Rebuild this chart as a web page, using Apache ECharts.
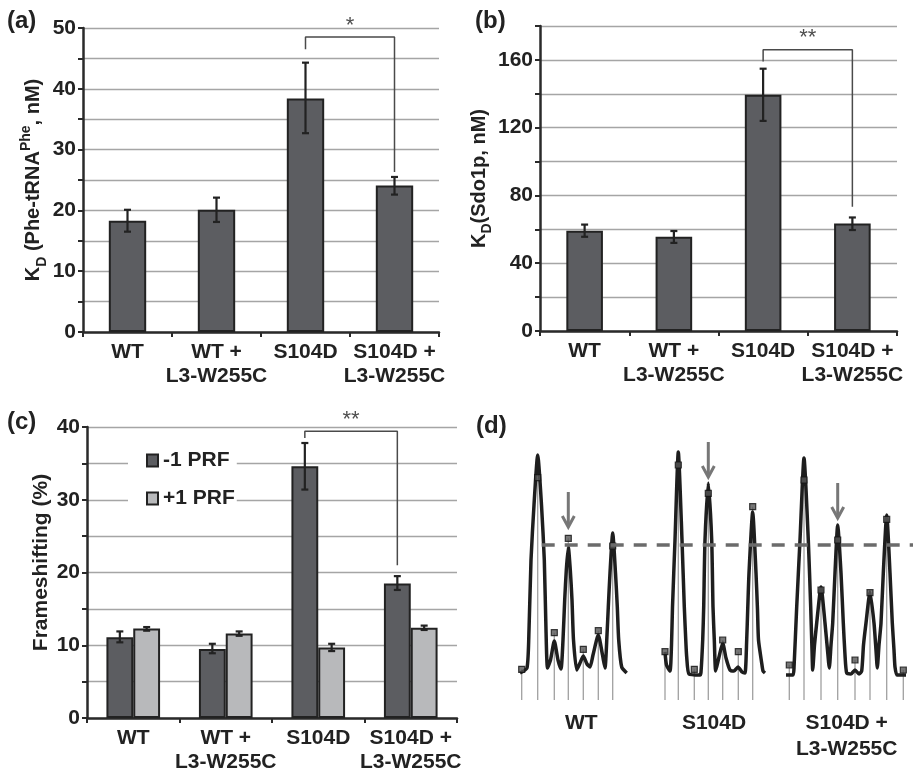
<!DOCTYPE html>
<html>
<head>
<meta charset="utf-8">
<script src="https://cdn.jsdelivr.net/npm/echarts@6.0.0/dist/echarts.min.js"></script>
<style>
html, body { margin: 0; padding: 0; background: #fff; }
#main { width: 913px; height: 769px; }
</style>
</head>
<body>
<div id="main"></div>
<script>
// categories shared by panels a, b, c
var categories = ['WT', 'WT +\nL3-W255C', 'S104D', 'S104D +\nL3-W255C'];

// (a) KD Phe-tRNA (nM)
var kdPhe = [18.3, 20.1, 38.4, 24.1];
var kdPheLow = [16.5, 18.1, 32.7, 22.6];
var kdPheHigh = [20.1, 22.1, 44.3, 25.5];

// (b) KD Sdo1p (nM)
var kdSdo = [59.2, 55.6, 139.5, 63.4];
var kdSdoLow = [55.6, 52.0, 124.0, 59.6];
var kdSdoHigh = [62.8, 59.0, 154.8, 67.0];

// (c) frameshifting (%)
var prfMinus1 = [11.1, 9.5, 34.6, 18.5];
var prfMinus1Low = [10.4, 8.9, 31.4, 17.6];
var prfMinus1High = [11.9, 10.2, 37.8, 19.5];
var prfPlus1 = [12.3, 11.6, 9.7, 12.4];
var prfPlus1Low = [12.0, 11.3, 9.2, 12.1];
var prfPlus1High = [12.5, 11.9, 10.2, 12.7];

// significance brackets [x (category index), y]
var bracketA = [[2, 46.5], [2, 48.5], [3, 48.5], [3, 26.3]];
var bracketB = [[2, 159], [2, 166], [3, 166], [3, 73.4]];
var bracketC = [[1.855, 38.5], [1.855, 39.4], [2.855, 39.4], [2.855, 21]];

// (d) gel scan traces [migration, intensity]
var dLabels = ['WT', 'S104D', 'S104D +\nL3-W255C'];
var wtTrace = [
  [5, 29], [12, 34], [14, 72], [16, 142], [19, 197], [22.7, 247], [26.5, 197], [29.3, 142], [31, 72], [32.5, 34],
  [35.5, 42], [39.3, 61], [43, 42], [46, 33],
  [48, 62], [49.7, 102], [51.3, 132], [53.3, 155], [55.3, 132], [57, 102], [58.5, 62], [61.7, 32],
  [65, 39], [68.3, 46], [72, 38], [75, 35],
  [78, 47], [83.3, 67], [87.5, 47], [90, 34],
  [92, 67], [93.3, 95], [95, 129], [97.7, 169], [100.5, 129], [102.3, 95], [103.7, 62], [106.7, 35], [111.7, 29]
];
var s104dTrace = [
  [150, 50], [151.5, 37], [155, 31], [156.5, 57], [157.5, 95], [160, 162], [163.3, 250], [167, 162], [169.3, 95],
  [171, 57], [171.7, 45], [174, 28], [185, 27],
  [186, 30], [187.7, 62], [188.7, 95], [190, 162], [193.3, 219], [196.7, 162], [198, 95], [199.3, 62], [200.7, 31],
  [204, 45], [207.7, 59], [211, 44], [215, 32], [219, 31], [223, 35], [227, 30], [230, 29],
  [231.7, 62], [232.7, 92], [234, 129], [237.7, 190], [241, 129], [242.5, 92], [243.5, 62], [246.7, 39], [248, 31], [250, 29]
];
var s104dL3Trace = [
  [271, 27], [278, 27], [279, 34], [281.7, 95], [285, 162], [289, 244], [293.3, 162], [295.7, 95], [297, 52], [297.7, 32],
  [299.5, 57], [301.7, 79], [306, 115], [310, 79], [312.5, 52], [314.3, 34],
  [316, 57], [317.7, 79], [320, 129], [322.7, 177], [326, 129], [328.3, 79], [330, 47], [331.7, 29],
  [336, 28], [340, 32], [344, 28], [346.7, 31],
  [348.5, 57], [351, 79], [355, 110], [359, 79], [361, 52], [362.3, 34],
  [364, 57], [366, 79], [368.3, 129], [371.7, 187], [375, 129], [377.3, 79], [379, 52], [380, 35], [382, 27], [391, 27]
];
var wtPeaks = [[6.7, 32.7], [22.7, 224.3], [39.3, 69.3], [53.3, 163.7], [68.3, 52.7], [83.3, 71.3], [97.7, 156]];
var s104dPeaks = [[150, 50.3], [163.3, 237], [179.3, 32.7], [193.3, 208.7], [207.7, 62], [223.3, 50.3], [237.7, 195.3]];
var s104dL3Peaks = [[274.3, 37], [289, 222], [306, 112], [322.7, 162], [340, 42], [355, 109.3], [371.7, 182.7], [388.3, 32]];
var arrows = [[53.3, 210, 175], [193.3, 260, 225], [322.7, 219, 184]];
var cutoffLine = [[26.7, 157], [398, 157]];

var FONT = '"Liberation Sans", Arial, Helvetica, sans-serif';
var DARK = '#5c5d61', LIGHT = '#b8b9bb', EDGE = '#222', GRIDC = '#a5a5a5', AXISC = '#2a2a2a';

function errData(low, high, off) {
  return low.map(function (v, i) { return [i + off, v, high[i]]; });
}

function renderErr(params, api) {
  var x = api.value(0);
  var top = api.coord([x, api.value(2)]);
  var bot = api.coord([x, api.value(1)]);
  var c = 3.5;
  var st = { stroke: EDGE, lineWidth: 2.2 };
  return {
    type: 'group',
    children: [
      { type: 'line', shape: { x1: top[0], y1: top[1], x2: bot[0], y2: bot[1] }, style: st },
      { type: 'line', shape: { x1: top[0] - c, y1: top[1], x2: top[0] + c, y2: top[1] }, style: st },
      { type: 'line', shape: { x1: bot[0] - c, y1: bot[1], x2: bot[0] + c, y2: bot[1] }, style: st }
    ]
  };
}

function renderStem(params, api) {
  var x = api.value(0);
  var a = api.coord([x, 2]);
  var b = api.coord([x, api.value(1)]);
  return { type: 'line', shape: { x1: a[0], y1: a[1], x2: b[0], y2: b[1] }, style: { stroke: '#a0a0a0', lineWidth: 1.3 } };
}

function renderArrow(params, api) {
  var x = api.value(0);
  var a = api.coord([x, api.value(1)]);
  var b = api.coord([x, api.value(2)]);
  var st = { stroke: '#777', lineWidth: 3, fill: null };
  return {
    type: 'group',
    children: [
      { type: 'line', shape: { x1: a[0], y1: a[1], x2: b[0], y2: b[1] - 1 }, style: st },
      { type: 'polyline', shape: { points: [[b[0] - 6, b[1] - 11], [b[0], b[1]], [b[0] + 6, b[1] - 11]] }, style: st }
    ]
  };
}

function catAxis(g, data) {
  return {
    type: 'category', gridIndex: g, data: data,
    axisLine: { onZero: false, lineStyle: { color: AXISC, width: 2.5 } },
    axisTick: { show: true, length: 5, lineStyle: { color: AXISC, width: 2 } },
    axisLabel: { interval: 0, hideOverlap: false, fontFamily: FONT, fontSize: 21, fontWeight: 'bold', color: '#222', lineHeight: 24, margin: 8 },
    splitLine: { show: false }
  };
}

function hiddenX(g) {
  return { type: 'value', gridIndex: g, min: -0.5, max: 3.5, show: false, position: 'top', axisLine: { onZero: false } };
}

function valAxis(g, max, step, labelStep, name, gap, rich, pad) {
  return {
    type: 'value', gridIndex: g, min: 0, max: max, interval: step,
    axisLine: { show: true, onZero: false, lineStyle: { color: AXISC, width: 2.5 } },
    axisTick: { show: true, length: 5, lineStyle: { color: AXISC, width: 2 } },
    axisLabel: {
      fontFamily: FONT, fontSize: 21, fontWeight: 'bold', color: '#222', margin: 7,
      formatter: function (v) { return v % labelStep === 0 ? String(v) : ''; }
    },
    splitLine: { show: true, lineStyle: { color: GRIDC, width: 1.3 } },
    name: name, nameLocation: 'middle', nameGap: gap, nameRotate: 90,
    nameTextStyle: { fontFamily: FONT, fontSize: 21, fontWeight: 'bold', color: '#222', rich: rich, padding: pad }
  };
}

var subRich = {
  k: { fontFamily: FONT, fontSize: 20, fontWeight: 'bold', color: '#222', lineHeight: 30, verticalAlign: 'middle' },
  s: { fontFamily: FONT, fontSize: 14, fontWeight: 'bold', color: '#222', lineHeight: 14, verticalAlign: 'bottom' },
  p: { fontFamily: FONT, fontSize: 14, fontWeight: 'bold', color: '#222', lineHeight: 14, verticalAlign: 'top' }
};

function panelTitle(letter, left, top) {
  return {
    text: '{p|(}{b|' + letter + '}{p|)}', left: left, top: top, padding: 0,
    textStyle: {
      rich: {
        p: { fontFamily: FONT, fontSize: 24, color: '#222' },
        b: { fontFamily: FONT, fontSize: 24, fontWeight: 'bold', color: '#222' }
      }
    }
  };
}

function starSeries(xi, yi, point, text) {
  return {
    type: 'scatter', xAxisIndex: xi, yAxisIndex: yi, data: [point], symbolSize: 1,
    itemStyle: { color: 'rgba(0,0,0,0)' }, z: 5,
    label: { show: true, position: 'top', distance: 0, formatter: text, fontFamily: FONT, fontSize: 22, color: '#222' }
  };
}

function bracketSeries(xi, yi, data) {
  return {
    type: 'line', xAxisIndex: xi, yAxisIndex: yi, data: data, showSymbol: false, symbol: 'none',
    lineStyle: { color: '#4a4a4a', width: 1.5 }, z: 4, silent: true
  };
}

function barStyle(color) {
  return { color: color, borderColor: EDGE, borderWidth: 2 };
}

function traceSeries(data) {
  return {
    type: 'line', xAxisIndex: 7, yAxisIndex: 3, data: data, smooth: 0.2, showSymbol: false, symbol: 'none',
    lineStyle: { color: '#1e1e1e', width: 3.5 }, z: 2
  };
}

var chart = echarts.init(document.getElementById('main'));

var option = {
  animation: false,
  backgroundColor: '#fff',
  title: [
    panelTitle('a', 7, 9),
    panelTitle('b', 475, 9),
    panelTitle('c', 7, 410),
    panelTitle('d', 476, 414)
  ],
  legend: {
    data: ['-1 PRF', '+1 PRF'], orient: 'vertical', left: 128, top: 445,
    backgroundColor: '#fff', padding: [5, 2, 5, 18], itemGap: 17,
    itemWidth: 11, itemHeight: 12, icon: 'rect',
    textStyle: { fontFamily: FONT, fontSize: 21, fontWeight: 'bold', color: '#222' }
  },
  grid: [
    { left: 83, top: 28, width: 356, height: 304, outerBoundsMode: 'none' },
    { left: 540, top: 26, width: 357, height: 305, outerBoundsMode: 'none' },
    { left: 87, top: 427, width: 370, height: 291, outerBoundsMode: 'none' },
    { left: 515, top: 430, width: 398, height: 272, outerBoundsMode: 'none' }
  ],
  xAxis: [
    catAxis(0, categories), hiddenX(0),
    catAxis(1, categories), hiddenX(1),
    catAxis(2, categories), hiddenX(2),
    {
      type: 'category', gridIndex: 3, data: dLabels, position: 'bottom',
      axisLine: { show: false, onZero: false }, axisTick: { show: false }, splitLine: { show: false },
      axisLabel: { interval: 0, fontFamily: FONT, fontSize: 21, fontWeight: 'bold', color: '#222', lineHeight: 26, margin: 8 }
    },
    { type: 'value', gridIndex: 3, min: 0, max: 398, show: false, position: 'top', axisLine: { onZero: false } }
  ],
  yAxis: [
    valAxis(0, 50, 5, 10, '{k|K}{s|D}{k| (Phe-tRNA}{p|Phe}{k|, nM)}', 32, subRich, [0, 0, 0, 0]),
    valAxis(1, 180, 20, 40, '{k|K}{s|D}{k|(Sdo1p, nM)}', 42, subRich, [0, 0, 0, 0]),
    valAxis(2, 40, 5, 10, 'Frameshifting (%)', 35, null, [0, 0, 0, 20]),
    { type: 'value', gridIndex: 3, min: 0, max: 272, show: false, axisLine: { onZero: false } }
  ],
  series: [
    // (a)
    { type: 'bar', xAxisIndex: 0, yAxisIndex: 0, data: kdPhe, barWidth: '42%', itemStyle: barStyle(DARK) },
    { type: 'custom', xAxisIndex: 1, yAxisIndex: 0, data: errData(kdPheLow, kdPheHigh, 0), renderItem: renderErr, encode: { x: 0, y: [1, 2] }, z: 3 },
    bracketSeries(1, 0, bracketA),
    starSeries(1, 0, [2.5, 48.5], '*'),
    // (b)
    { type: 'bar', xAxisIndex: 2, yAxisIndex: 1, data: kdSdo, barWidth: '41%', itemStyle: barStyle(DARK) },
    { type: 'custom', xAxisIndex: 3, yAxisIndex: 1, data: errData(kdSdoLow, kdSdoHigh, 0), renderItem: renderErr, encode: { x: 0, y: [1, 2] }, z: 3 },
    bracketSeries(3, 1, bracketB),
    starSeries(3, 1, [2.5, 166], '**'),
    // (c)
    { type: 'bar', name: '-1 PRF', xAxisIndex: 4, yAxisIndex: 2, data: prfMinus1, barWidth: '29%', barGap: '0%', itemStyle: barStyle(DARK) },
    { type: 'bar', name: '+1 PRF', xAxisIndex: 4, yAxisIndex: 2, data: prfPlus1, barWidth: '29%', barGap: '0%', itemStyle: barStyle(LIGHT) },
    { type: 'custom', xAxisIndex: 5, yAxisIndex: 2, data: errData(prfMinus1Low, prfMinus1High, -0.145), renderItem: renderErr, encode: { x: 0, y: [1, 2] }, z: 3 },
    { type: 'custom', xAxisIndex: 5, yAxisIndex: 2, data: errData(prfPlus1Low, prfPlus1High, 0.145), renderItem: renderErr, encode: { x: 0, y: [1, 2] }, z: 3 },
    bracketSeries(5, 2, bracketC),
    starSeries(5, 2, [2.355, 39.4], '**'),
    // (d)
    { type: 'custom', xAxisIndex: 7, yAxisIndex: 3, data: wtPeaks.concat(s104dPeaks, s104dL3Peaks), renderItem: renderStem, encode: { x: 0, y: 1 }, z: 1 },
    traceSeries(wtTrace),
    traceSeries(s104dTrace),
    traceSeries(s104dL3Trace),
    { type: 'scatter', xAxisIndex: 7, yAxisIndex: 3, data: wtPeaks.concat(s104dPeaks, s104dL3Peaks), symbol: 'rect', symbolSize: 6, itemStyle: { color: '#555', borderColor: '#111', borderWidth: 1.2 }, z: 3 },
    { type: 'line', xAxisIndex: 7, yAxisIndex: 3, data: cutoffLine, showSymbol: false, symbol: 'none', lineStyle: { color: '#6b6b6b', width: 3.5, type: [13, 10] }, z: 4 },
    { type: 'custom', xAxisIndex: 7, yAxisIndex: 3, data: arrows, renderItem: renderArrow, encode: { x: 0, y: [1, 2] }, z: 5 }
  ]
};

chart.setOption(option);
</script>
</body>
</html>
